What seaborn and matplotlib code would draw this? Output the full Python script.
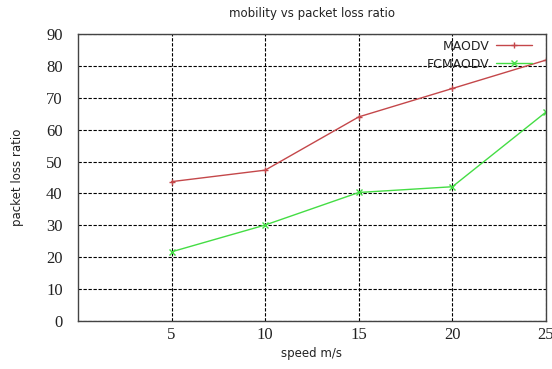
import matplotlib
matplotlib.use("Agg")
import matplotlib.pyplot as plt
import seaborn as sns
import pandas as pd

speed = [5, 10, 15, 20, 25]
maodv = [43.7, 47.3, 64.0, 72.9, 81.8]
fcmaodv = [21.7, 30.1, 40.3, 42.1, 65.5]
y_ticks = [0, 10, 20, 30, 40, 50, 60, 70, 80, 90]
x_ticks = [5, 10, 15, 20, 25]

sns.set_style("white")
plt.rcParams["font.family"] = ["DejaVu Sans"]

fig = plt.figure(figsize=(5.52, 3.69), dpi=100)
ax = fig.add_axes([0.1413, 0.130, 0.8477, 0.778])

df = pd.DataFrame({
    "speed": speed * 2,
    "loss": maodv + fcmaodv,
    "proto": ["MAODV"] * len(speed) + ["FCMAODV"] * len(speed),
})

red = "#c4474a"
green = "#44dd44"
sns.lineplot(data=df[df.proto == "MAODV"], x="speed", y="loss", ax=ax,
             color=red, marker="+", markersize=5, markeredgewidth=1.0,
             markeredgecolor=red, linewidth=1.0, label="MAODV")
sns.lineplot(data=df[df.proto == "FCMAODV"], x="speed", y="loss", ax=ax,
             color=green, marker="x", markersize=4.5, markeredgewidth=1.0,
             markeredgecolor=green, linewidth=1.0, label="FCMAODV")

ax.set_xlim(0, 25)
ax.set_ylim(0, 90)
ax.set_xticks(x_ticks)
ax.set_yticks(y_ticks)
serif = {"family": "Liberation Serif", "size": 12}
ax.set_xticklabels([str(v) for v in x_ticks], fontdict=serif)
ax.set_yticklabels([str(v) for v in y_ticks], fontdict=serif)
ax.tick_params(axis="y", direction="in", length=0, pad=11, colors="#222222")
ax.tick_params(axis="x", direction="in", length=0, pad=4, colors="#222222")

ax.grid(True, color="black", linestyle=(0, (3, 1.5)), linewidth=0.8)
for s in ax.spines.values():
    s.set_color("#444444")
    s.set_linewidth(1.0)

ax.set_title("mobility vs packet loss ratio", fontsize=8.5, color="#222222", pad=12)
ax.set_xlabel("speed m/s", fontsize=8.5, color="#222222", labelpad=3)
ax.set_ylabel("packet loss ratio", fontsize=8.5, color="#222222", labelpad=16)

leg = ax.legend(loc="upper right", bbox_to_anchor=(0.981, 0.997), frameon=False,
                markerfirst=False, fontsize=9, handlelength=2.9,
                borderaxespad=0.0, labelspacing=0.38, handletextpad=0.5)
for t in leg.get_texts():
    t.set_ha("right")
    t.set_color("#222222")

fig.savefig("out.png", dpi=100)
